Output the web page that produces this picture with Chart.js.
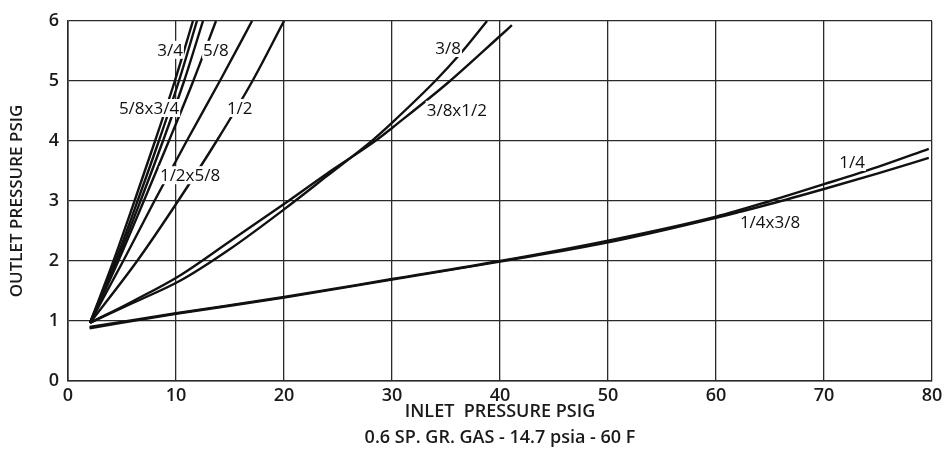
<!DOCTYPE html>
<html>
<head>
<meta charset="utf-8">
<script src="https://cdn.jsdelivr.net/npm/chart.js@4.4.1/dist/chart.umd.min.js"></script>
<style>
  html, body { margin: 0; padding: 0; background: #fff; }
  #wrap { width: 948px; height: 457px; position: relative; }
</style>
</head>
<body>
<div id="wrap"><canvas id="c" width="948" height="457"></canvas></div>
<script>
// ---- Data ----
// Steep curves: inlet pressure (x) at outlet pressure levels (y)
const steepY     = [0.97, 2, 3, 4, 5, 6];
const x_3_4      = [2.04, 4.21, 6.16, 8.06, 9.89, 11.57];
const x_3_4b     = [2.04, 4.39, 6.44, 8.41, 10.27, 11.94];
const x_5_8x3_4  = [2.04, 4.53, 6.71, 8.79, 10.75, 12.5];
const x_5_8      = [2.04, 4.66, 7.02, 9.34, 11.6, 13.7];
const x_1_2x5_8  = [2.04, 5.11, 8.0, 10.99, 14.06, 17.04];
const x_1_2      = [2.04, 6.4, 10.19, 13.76, 17.08, 20.0];

// Medium curves
const x_3_8      = [2.04, 6, 10.37, 15, 20, 24, 28.24, 30.09, 34, 36.4, 38.8];
const y_3_8      = [0.97, 1.3, 1.67, 2.2, 2.86, 3.42, 4.02, 4.32, 5.0, 5.47, 6.0];
const x_3_8x1_2  = [2.04, 6, 10.37, 15, 20, 24, 28.6, 30.09, 35.37, 40, 41.1];
const y_3_8x1_2  = [0.97, 1.33, 1.76, 2.33, 2.95, 3.46, 4.02, 4.23, 5.0, 5.75, 5.93];

// Shallow curves
const x_shallow  = [2, 10, 20, 30, 40, 50, 60, 65, 70, 75, 79.7];
const y_1_4      = [0.9, 1.13, 1.4, 1.7, 2.0, 2.34, 2.74, 3.0, 3.28, 3.57, 3.87];
const y_1_4x3_8  = [0.88, 1.12, 1.39, 1.69, 1.99, 2.31, 2.72, 2.95, 3.2, 3.46, 3.72];

// Curve labels (text and anchor in data units)
const labelText = ['3/4', '5/8', '5/8x3/4', '1/2', '1/2x5/8', '3/8', '3/8x1/2', '1/4', '1/4x3/8'];
const labelX    = [9.45, 13.7, 7.5, 15.9, 11.3, 35.2, 36.0, 72.6, 65.0];
const labelY    = [5.52, 5.52, 4.55, 4.55, 3.43, 5.55, 4.52, 3.65, 2.65];

// Axis ticks
const xTicks = [0, 10, 20, 30, 40, 50, 60, 70, 80];
const yTicks = [0, 1, 2, 3, 4, 5, 6];

function pts(xs, ys) { return xs.map((x, i) => ({ x: x, y: ys[i] })); }

function ds(label, data) {
  return {
    label: label,
    data: data,
    showLine: true,
    borderColor: '#111',
    borderWidth: 2.4,
    pointRadius: 0,
    cubicInterpolationMode: 'monotone',
    fill: false
  };
}

const datasets = [
  ds('3/4', pts(x_3_4, steepY)),
  ds('3/4 (b)', pts(x_3_4b, steepY)),
  ds('5/8x3/4', pts(x_5_8x3_4, steepY)),
  ds('5/8', pts(x_5_8, steepY)),
  ds('1/2x5/8', pts(x_1_2x5_8, steepY)),
  ds('1/2', pts(x_1_2, steepY)),
  ds('3/8', pts(x_3_8, y_3_8)),
  ds('3/8x1/2', pts(x_3_8x1_2, y_3_8x1_2)),
  ds('1/4', pts(x_shallow, y_1_4)),
  ds('1/4x3/8', pts(x_shallow, y_1_4x3_8))
];

const curveLabels = {
  id: 'curveLabels',
  afterDatasetsDraw(chart) {
    const ctx = chart.ctx;
    const xs = chart.scales.x, ys = chart.scales.y;
    ctx.save();
    ctx.font = '17px "Open Sans", sans-serif';
    ctx.textAlign = 'center';
    ctx.textBaseline = 'middle';
    labelText.forEach((t, i) => {
      const px = xs.getPixelForValue(labelX[i]);
      const py = ys.getPixelForValue(labelY[i]);
      const w = ctx.measureText(t).width;
      ctx.fillStyle = '#fff';
      ctx.fillRect(px - w / 2 - 1, py - 9, w + 2, 18);
      ctx.fillStyle = '#111';
      ctx.fillText(t, px, py + 1);
    });
    ctx.restore();
  }
};

const tickFont = { family: '"Open Sans", sans-serif', size: 18, weight: '600' };

new Chart(document.getElementById('c'), {
  type: 'scatter',
  data: { datasets: datasets },
  plugins: [curveLabels],
  options: {
    responsive: false,
    animation: false,
    devicePixelRatio: 1,
    layout: { padding: { left: 0, right: 16, top: 21, bottom: 0 } },
    plugins: { legend: { display: false }, tooltip: { enabled: false } },
    scales: {
      x: {
        type: 'linear',
        min: 0, max: 80,
        afterBuildTicks(s) { s.ticks = xTicks.map(v => ({ value: v })); },
        afterFit(s) { s.height = 76; },
        grid: { color: '#2a2a2a', lineWidth: 1.3, drawTicks: false },
        border: { color: '#2a2a2a', width: 1.6 },
        ticks: { color: '#1a1a1a', font: tickFont, padding: 4, maxRotation: 0 },
        title: {
          display: true,
          text: ['INLET  PRESSURE PSIG', '0.6 SP. GR. GAS - 14.7 psia - 60 F'],
          color: '#1a1a1a',
          font: { family: '"Open Sans", sans-serif', size: 18, weight: '600', lineHeight: 1.4 },
          padding: { top: 0, bottom: 7 }
        }
      },
      y: {
        type: 'linear',
        min: 0, max: 6,
        afterBuildTicks(s) { s.ticks = yTicks.map(v => ({ value: v })); },
        afterFit(s) { s.width = 68; },
        grid: { color: '#2a2a2a', lineWidth: 1.3, drawTicks: false },
        border: { color: '#2a2a2a', width: 1.6 },
        ticks: { color: '#1a1a1a', font: tickFont, padding: 9 },
        title: {
          display: true,
          text: 'OUTLET PRESSURE PSIG',
          color: '#1a1a1a',
          font: { family: '"Open Sans", sans-serif', size: 17, weight: '600' },
          padding: { top: 7, bottom: 0 }
        }
      }
    }
  }
});
</script>
</body>
</html>
